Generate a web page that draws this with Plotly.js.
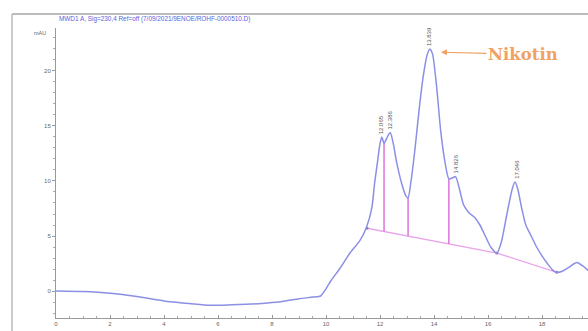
<!DOCTYPE html>
<html>
<head>
<meta charset="utf-8">
<script src="https://cdn.plot.ly/plotly-3.0.1.min.js"></script>
<style>
html,body{margin:0;padding:0;background:#fff;overflow:hidden;width:588px;height:331px;}
#chart{width:623px;height:331px;}
</style>
</head>
<body>
<div id="chart"></div>
<script>
// Retention time (min) and signal (mAU)
const timeMin = [0, 1, 2, 3, 4, 5, 5.7, 6.5, 7.5, 8, 8.5, 9, 9.5, 9.8, 10.0, 10.2, 10.5, 10.9, 11.26, 11.5, 11.7, 11.8, 11.9, 12.0, 12.07, 12.15, 12.25, 12.38, 12.5, 12.6, 12.8, 12.95, 13.04, 13.15, 13.3, 13.45, 13.6, 13.75, 13.85, 13.95, 14.1, 14.25, 14.4, 14.55, 14.7, 14.8, 14.95, 15.1, 15.3, 15.5, 15.7, 15.9, 16.1, 16.33, 16.5, 16.7, 16.9, 17.0, 17.1, 17.25, 17.4, 17.6, 17.8, 18.0, 18.2, 18.4, 18.55, 18.75, 18.96, 19.2, 19.3, 19.5, 19.7, 20.0];
const signalMAU = [0, -0.05, -0.2, -0.5, -0.9, -1.15, -1.3, -1.25, -1.15, -1.05, -0.9, -0.7, -0.55, -0.45, 0.2, 1.0, 2.0, 3.5, 4.6, 5.8, 7.6, 9.8, 11.6, 13.4, 14.0, 13.4, 13.9, 14.4, 13.3, 11.9, 9.8, 8.7, 8.45, 10.0, 13.0, 16.5, 19.5, 21.5, 22.0, 21.5, 18.5, 14.5, 11.8, 10.2, 10.3, 10.4, 9.2, 7.8, 7.1, 6.7, 6.0, 5.0, 4.0, 3.45, 4.5, 7.0, 9.3, 9.9, 9.3, 7.5, 6.0, 5.0, 4.0, 3.2, 2.5, 1.9, 1.7, 1.8, 2.1, 2.5, 2.6, 2.3, 1.9, 1.4];

// Integration baseline points
const baseTime = [11.52, 16.33, 18.55];
const baseMAU = [5.7, 3.45, 1.7];

// Drop lines
const dropTime = [12.15, 13.04, 14.55];
const dropTop = [13.4, 8.45, 10.2];
const dropBottom = [5.41, 4.99, 4.28];

// Peak labels
const peakTimes = [12.065, 12.386, 13.839, 14.826, 17.046];
const peakHeights = [14.0, 14.4, 22.0, 10.4, 9.9];
const peakLabels = ["12.065", "12.386", "13.839", "14.826", "17.046"];

const xTicks = [0, 2, 4, 6, 8, 10, 12, 14, 16, 18, 20];
const yTicks = [0, 5, 10, 15, 20];

const signalTitle = "MWD1 A, Sig=230,4 Ref=off (7/09/2021/9ENOE/ROHF-0000510.D)";
const compoundName = "Nikotin";
const compoundIndex = 2;

const dropX = [], dropY = [];
dropTime.forEach((t, i) => { dropX.push(t, t, null); dropY.push(dropTop[i], dropBottom[i], null); });

const traces = [
  {x: baseTime, y: baseMAU, mode: 'lines+markers', line: {color: '#e9a6ea', width: 1.4},
   marker: {size: 3, color: '#8a7fc8'}, hoverinfo: 'skip'},
  {x: dropX, y: dropY, mode: 'lines', line: {color: '#e07ce0', width: 1.6}, hoverinfo: 'skip'},
  {x: timeMin, y: signalMAU, mode: 'lines', line: {color: '#8c8fe6', width: 1.5, shape: 'spline', smoothing: 0.6}}
];

const annotations = peakTimes.map((t, i) => ({
  x: t, y: peakHeights[i], xref: 'x', yref: 'y', text: peakLabels[i], showarrow: false,
  textangle: -90, yanchor: 'bottom', xanchor: 'center', yshift: 1,
  font: {size: 6, color: '#555', family: 'Liberation Sans, Arial, sans-serif'}
}));
annotations.push({
  xref: 'paper', yref: 'paper', x: 0.002, y: 1.031, xanchor: 'left', yanchor: 'middle',
  text: signalTitle, showarrow: false, font: {size: 6.4, color: '#5a5ee0', family: 'Liberation Sans, Arial, sans-serif'}
});
annotations.push({
  xref: 'paper', yref: 'paper', x: -0.028, y: 0.983, xanchor: 'center', yanchor: 'middle',
  text: 'mAU', showarrow: false, font: {size: 5.5, color: '#666', family: 'Liberation Sans, Arial, sans-serif'}
});
annotations.push({
  x: peakTimes[compoundIndex] + 0.42, y: peakHeights[compoundIndex] - 0.3, xref: 'x', yref: 'y',
  text: '<b>' + compoundName + '</b>', showarrow: true, axref: 'pixel', ayref: 'pixel', ax: 82, ay: 2,
  arrowhead: 2, arrowsize: 1, arrowwidth: 1.2, arrowcolor: '#f0a262',
  font: {size: 16.5, color: '#f0a262', family: 'DejaVu Serif, serif'}
});

const layout = {
  width: 623, height: 331,
  margin: {l: 56, r: 0, t: 28, b: 13},
  paper_bgcolor: '#fff', plot_bgcolor: '#fff',
  showlegend: false,
  font: {family: 'Liberation Sans, Arial, sans-serif', size: 6, color: '#666'},
  xaxis: {range: [0, 21], showgrid: false, zeroline: false, showline: true, linecolor: '#999', linewidth: 1,
    tickmode: 'array', tickvals: xTicks, ticktext: xTicks.map(String), ticks: 'inside', ticklen: 3, tickcolor: '#999',
    minor: {dtick: 0.5, ticks: 'inside', ticklen: 2, tickcolor: '#aaa'},
    tickfont: {size: 6, color: '#666'}},
  yaxis: {range: [-2.45, 23.9], showgrid: false, zeroline: false, showline: true, linecolor: '#999', linewidth: 1,
    tickmode: 'array', tickvals: yTicks, ticktext: yTicks.map(String), ticks: 'outside', ticklen: 3, tickcolor: '#999',
    minor: {dtick: 1, ticks: 'outside', ticklen: 2, tickcolor: '#aaa'},
    tickfont: {size: 6, color: '#666'}},
  shapes: [
    {type: 'line', xref: 'paper', yref: 'paper', x0: -0.0776, x1: -0.0776, y0: -0.1, y1: 1.048, line: {color: '#bbb', width: 1.5}},
    {type: 'line', xref: 'paper', yref: 'paper', x0: -0.0776, x1: 1.1, y0: 1.048, y1: 1.048, line: {color: '#bbb', width: 2}}
  ],
  annotations: annotations
};

Plotly.newPlot('chart', traces, layout, {staticPlot: true, displayModeBar: false});
</script>
</body>
</html>
